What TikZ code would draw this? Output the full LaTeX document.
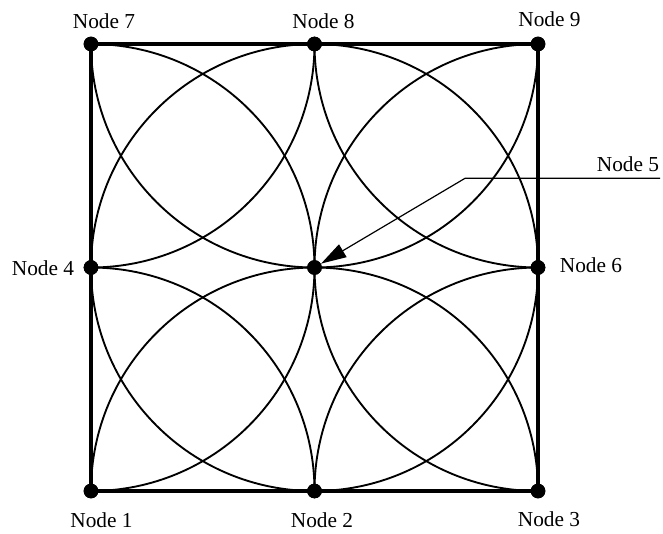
\documentclass[tikz,border=0pt]{standalone}
\usepackage{fontspec}
\setmainfont{Liberation Serif}
\usetikzlibrary{arrows.meta}
\begin{document}
\begin{tikzpicture}[x=0.75pt,y=-0.75pt,
  dot/.style={circle,fill=black,inner sep=0pt,minimum size=11pt},
  lbl/.style={font=\fontsize{16}{19}\selectfont,inner sep=0pt},
  border/.style={line width=2.4pt},
  arc/.style={line width=1.4pt},
  leader/.style={line width=0.9pt}]
\useasboundingbox (0,0) rectangle (663,533);
% nodes
\node[dot] (n1) at (91,491) {};
\node[dot] (n2) at (314.5,491) {};
\node[dot] (n3) at (538,491) {};
\node[dot] (n4) at (91,267.5) {};
\node[dot] (n5) at (314.5,267.5) {};
\node[dot] (n6) at (538,267.5) {};
\node[dot] (n7) at (91,44) {};
\node[dot] (n8) at (314.5,44) {};
\node[dot] (n9) at (538,44) {};
% arcs: circles of radius half-side centred on every node, clipped to the square
\begin{scope}
  \clip (n1.center) rectangle (n9.center);
  \foreach \c in {n1,n2,n3,n4,n5,n6,n7,n8,n9}
    \draw[arc] (\c.center) circle[radius=167.625pt];
\end{scope}
% square
\draw[border] (n1.center) -- (n3.center) -- (n9.center) -- (n7.center) -- cycle;
% redraw dots on top
\foreach \c in {n1,n2,n3,n4,n5,n6,n7,n8,n9}
  \fill (\c.center) circle[radius=5.5pt];
% labels
\node[lbl] (l7) at (104,21) {Node 7};
\node[lbl] (l8) at (323.5,21) {Node 8};
\node[lbl] (l9) at (549.5,19.5) {Node 9};
\node[lbl] (l4) at (43,268) {Node 4};
\node[lbl] (l6) at (591,265) {Node 6};
\node[lbl] (l1) at (101.5,520) {Node 1};
\node[lbl] (l2) at (322,520) {Node 2};
\node[lbl] (l3) at (549,519) {Node 3};
\node[lbl] (l5) at (628,164.5) {Node 5};
% leader to node 5
\coordinate (e5) at (660,178.3);
\coordinate (k5) at (465,178.3);
\draw[leader,-{Triangle[length=19pt,width=11pt]}] (e5) -- (k5) -- (n5);
\end{tikzpicture}
\end{document}
